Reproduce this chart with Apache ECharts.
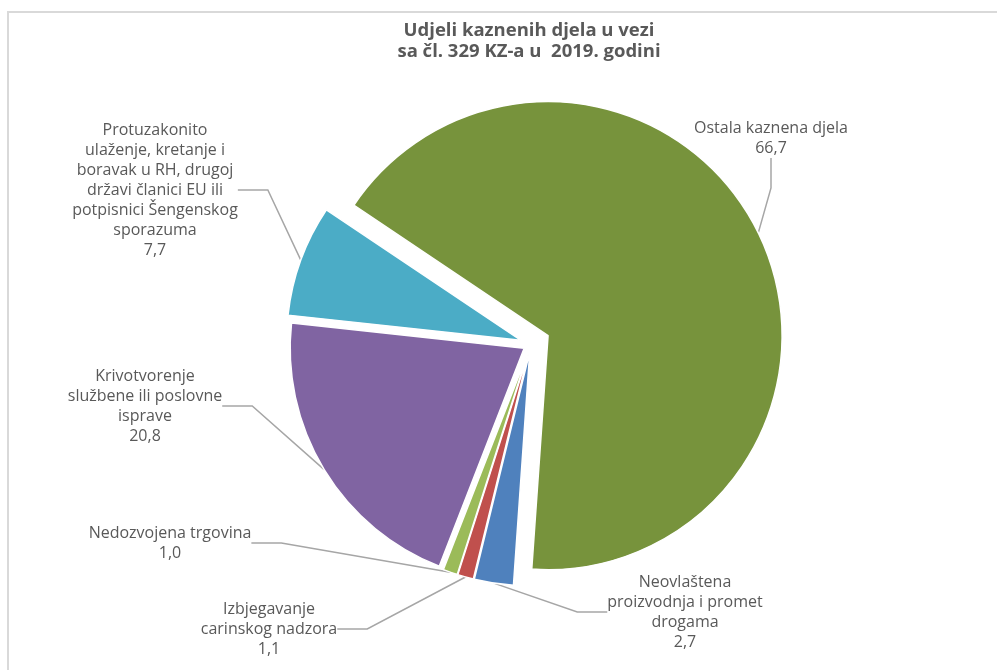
<!DOCTYPE html>
<html><head><meta charset="utf-8">
<script src="https://cdn.jsdelivr.net/npm/echarts@6/dist/echarts.min.js"></script>
<style>
html,body{margin:0;padding:0;background:#fff;}
#frame{position:absolute;left:7px;top:11px;width:1000px;height:700px;border-left:2px solid #d9d9d9;border-top:2px solid #d9d9d9;}
#chart{position:absolute;left:0;top:0;width:997px;height:670px;}
</style></head>
<body><div id="frame"></div><div id="chart"></div>
<script>
// ---- data ----
const titleText = 'Udjeli kaznenih djela u vezi\nsa čl. 329 KZ-a u  2019. godini';
const categories = [
  'Neovlaštena\nproizvodnja i promet\ndrogama',
  'Izbjegavanje\ncarinskog nadzora',
  'Nedozvojena trgovina',
  'Krivotvorenje\nslužbene ili poslovne\nisprave',
  'Protuzakonito\nulaženje, kretanje i\nboravak u RH, drugoj\ndržavi članici EU ili\npotpisnici Šengenskog\nsporazuma',
  'Ostala kaznena djela'
];
const values = [2.7, 1.1, 1.0, 20.8, 7.7, 66.7];
const colors = ['#4F81BD', '#C0504D', '#9BBB59', '#8064A2', '#4BACC6', '#77933C'];

// ---- layout ----
const pieCentre = [531, 344];
const pieRadius = 234;
const startAngle = -94;
const explode = [8, 8, 8, 8, 11, 19];           // px each slice is pulled out
const labelCentres = [[685, 612], [269, 629], [170, 543], [145, 406], [155, 190], [771, 138]];

const fmt = v => v.toFixed(1).replace('.', ',');
const total = values.reduce((a, b) => a + b, 0);

// one pie series per slice so that each slice can be pulled out by its own distance
let cum = 0;
const series = values.map((v, i) => {
  const mid = (startAngle - 360 * (cum + v / 2) / total) * Math.PI / 180;
  cum += v;
  const cx = pieCentre[0] + Math.cos(mid) * explode[i];
  const cy = pieCentre[1] - Math.sin(mid) * explode[i];
  return {
    type: 'pie',
    center: [cx, cy],
    radius: pieRadius,
    startAngle: startAngle,
    clockwise: true,
    avoidLabelOverlap: false,
    silent: true,
    emphasis: {disabled: true},
    label: {
      show: true,
      fontFamily: 'Open Sans', fontSize: 16, color: '#595959', lineHeight: 20,
      formatter: p => p.name + '\n' + fmt(p.value)
    },
    labelLine: {show: true, lineStyle: {color: '#a6a6a6', width: 1.5}},
    labelLayout: p => ({x: labelCentres[p.dataIndex][0], y: labelCentres[p.dataIndex][1], align: 'center', verticalAlign: 'middle'}),
    data: categories.map((c, j) => ({
      name: c,
      value: values[j],
      itemStyle: j === i ? {color: colors[j], borderColor: '#ffffff', borderWidth: 1.5}
                         : {color: 'rgba(0,0,0,0)', borderWidth: 0},
      label: {show: j === i},
      labelLine: {show: j === i}
    }))
  };
});

const chart = echarts.init(document.getElementById('chart'), null, {renderer: 'canvas'});
chart.setOption({
  backgroundColor: 'transparent',
  animation: false,
  title: {
    text: titleText,
    left: 524, top: 15, textAlign: 'center',
    textStyle: {fontFamily: 'Open Sans', fontWeight: 'bold', fontSize: 18.5, color: '#595959', lineHeight: 21}
  },
  series: series
});
</script>
</body></html>
